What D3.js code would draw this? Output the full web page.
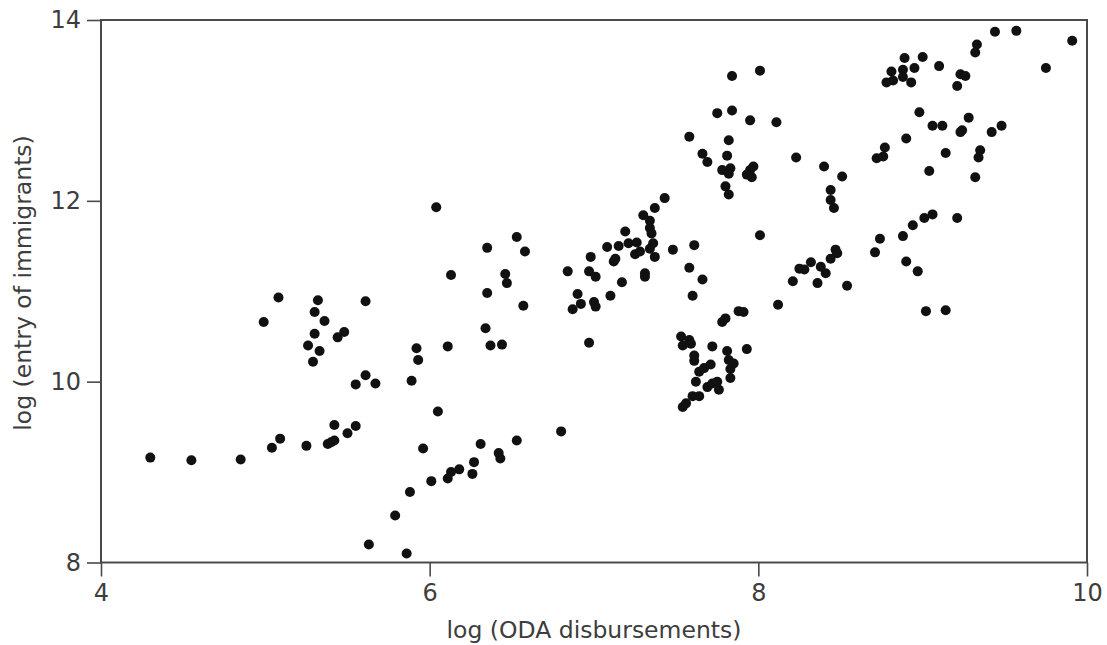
<!DOCTYPE html>
<html>
<head>
<meta charset="utf-8">
<script src="https://cdn.jsdelivr.net/npm/d3@7"></script>
<style>
  html, body { margin: 0; padding: 0; background: #fff; }
  svg { display: block; }
  text { font-family: "DejaVu Sans", sans-serif; fill: #3d3d3d; }
</style>
</head>
<body>
<svg id="chart" width="1107" height="645"></svg>
<script>
// log (ODA disbursements)
const xValues = [
  5.08,5.32,5.61,4.99,5.30,5.36,5.30,5.48,5.44,5.26,5.33,5.29,5.61,5.55,5.67,5.42,5.55,5.50,5.09,5.04,
  5.25,5.38,5.40,5.42,4.30,4.55,4.85,5.63,6.04,6.53,6.35,6.58,6.13,6.46,6.47,6.35,6.57,6.34,6.37,6.44,
  5.92,6.11,5.93,5.89,6.05,5.96,6.31,6.53,6.80,6.42,6.43,6.27,6.26,6.18,6.13,6.11,6.01,5.88,5.79,5.86,
  6.84,6.97,6.90,6.87,6.92,7.00,7.01,7.10,7.17,6.98,6.97,7.01,7.08,7.15,7.19,7.21,7.12,7.13,7.26,7.25,
  7.28,7.34,7.36,7.37,7.31,7.31,7.43,7.37,7.30,7.34,7.34,7.35,7.48,7.61,7.58,7.66,7.60,7.84,8.01,7.75,
  7.84,7.95,8.11,7.58,7.82,7.66,7.69,7.81,7.78,7.83,7.82,7.97,7.95,7.93,7.96,8.23,8.40,8.51,8.44,8.44,
  8.46,7.80,7.82,8.01,8.12,7.78,7.80,7.88,7.91,8.21,8.25,8.28,8.32,8.38,8.41,8.47,8.48,8.44,8.36,8.54,
  7.53,7.54,7.58,7.59,7.72,7.81,7.93,7.61,7.61,7.71,7.67,7.64,7.82,7.85,7.83,7.83,7.62,7.72,7.75,7.69,
  7.76,7.60,7.64,7.54,7.56,9.44,9.57,9.91,9.33,9.32,8.89,9.00,8.81,8.88,8.88,8.82,8.78,8.95,8.93,9.10,
  9.23,9.26,9.21,9.75,8.98,9.06,9.12,9.28,9.23,9.24,9.48,9.42,8.90,8.77,8.76,8.72,9.14,9.35,9.34,9.04,
  9.32,9.01,9.06,9.21,8.94,8.88,8.74,8.71,8.90,8.97,9.02,9.14
];
// log (entry of immigrants)
const yValues = [
  10.93,10.90,10.89,10.66,10.77,10.67,10.53,10.55,10.49,10.40,10.34,10.22,10.07,9.97,9.98,9.52,9.51,9.43,9.37,9.27,
  9.29,9.31,9.33,9.35,9.16,9.13,9.14,8.20,11.93,11.60,11.48,11.44,11.18,11.19,11.09,10.98,10.84,10.59,10.40,10.41,
  10.37,10.39,10.24,10.01,9.67,9.26,9.31,9.35,9.45,9.21,9.15,9.11,8.98,9.03,9.00,8.93,8.90,8.78,8.52,8.10,
  11.22,10.43,10.97,10.80,10.86,10.88,10.83,10.95,11.10,11.38,11.22,11.16,11.49,11.50,11.66,11.53,11.33,11.36,11.54,11.41,
  11.44,11.47,11.53,11.38,11.20,11.16,12.03,11.92,11.84,11.78,11.70,11.64,11.46,11.51,11.26,11.13,10.95,13.38,13.44,12.97,
  13.00,12.89,12.87,12.71,12.67,12.52,12.43,12.50,12.34,12.36,12.30,12.38,12.34,12.29,12.26,12.48,12.38,12.27,12.12,12.01,
  11.92,12.16,12.07,11.62,10.85,10.66,10.70,10.78,10.77,11.11,11.25,11.24,11.32,11.27,11.20,11.46,11.42,11.36,11.09,11.06,
  10.50,10.40,10.46,10.42,10.39,10.34,10.36,10.29,10.23,10.19,10.15,10.11,10.24,10.20,10.14,10.04,10.00,9.98,10.00,9.94,
  9.91,9.84,9.84,9.72,9.76,13.87,13.88,13.77,13.73,13.64,13.58,13.59,13.43,13.45,13.37,13.33,13.31,13.47,13.31,13.49,
  13.40,13.38,13.27,13.47,12.98,12.83,12.83,12.92,12.76,12.78,12.83,12.76,12.69,12.59,12.49,12.47,12.53,12.56,12.48,12.33,
  12.26,11.81,11.85,11.81,11.73,11.61,11.58,11.43,11.33,11.22,10.78,10.79
];
const xTicks = [4, 6, 8, 10];
const yTicks = [8, 10, 12, 14];
const xTitle = "log (ODA disbursements)";
const yTitle = "log (entry of immigrants)";

const points = xValues.map((v, i) => ({ x: v, y: yValues[i] }));

const svg = d3.select("#chart");
const mLeft = 101, mRight = 1087, mTop = 20, mBottom = 562.5;

const xScale = d3.scaleLinear().domain([4, 10]).range([mLeft, mRight]);
const yScale = d3.scaleLinear().domain([8, 14]).range([mBottom, mTop]);

const axisColor = "#4a4a4a";

// frame
svg.append("rect")
  .attr("x", mLeft).attr("y", mTop)
  .attr("width", mRight - mLeft).attr("height", mBottom - mTop)
  .attr("fill", "none").attr("stroke", axisColor).attr("stroke-width", 2);

const xAxis = svg.append("g")
  .attr("transform", `translate(0,${mBottom})`)
  .call(d3.axisBottom(xScale).tickValues(xTicks).tickSize(14).tickPadding(7).tickFormat(d3.format("d")));
const yAxis = svg.append("g")
  .attr("transform", `translate(${mLeft},0)`)
  .call(d3.axisLeft(yScale).tickValues(yTicks).tickSize(14).tickPadding(6).tickFormat(d3.format("d")));

[xAxis, yAxis].forEach(g => {
  g.select(".domain").remove();
  g.selectAll(".tick line").attr("stroke", axisColor).attr("stroke-width", 1.6);
  g.selectAll(".tick text").attr("font-size", 24).attr("fill", "#3d3d3d")
    .style("font-family", "'DejaVu Sans', sans-serif");
});

svg.append("g").selectAll("circle")
  .data(points)
  .join("circle")
  .attr("cx", d => xScale(d.x))
  .attr("cy", d => yScale(d.y))
  .attr("r", 5)
  .attr("fill", "#111");

svg.append("text")
  .attr("x", 594)
  .attr("y", 638)
  .attr("text-anchor", "middle")
  .attr("font-size", 23.5)
  .text(xTitle);

svg.append("text")
  .attr("transform", `translate(31,283) rotate(-90)`)
  .attr("text-anchor", "middle")
  .attr("font-size", 23.5)
  .text(yTitle);
</script>
</body>
</html>
